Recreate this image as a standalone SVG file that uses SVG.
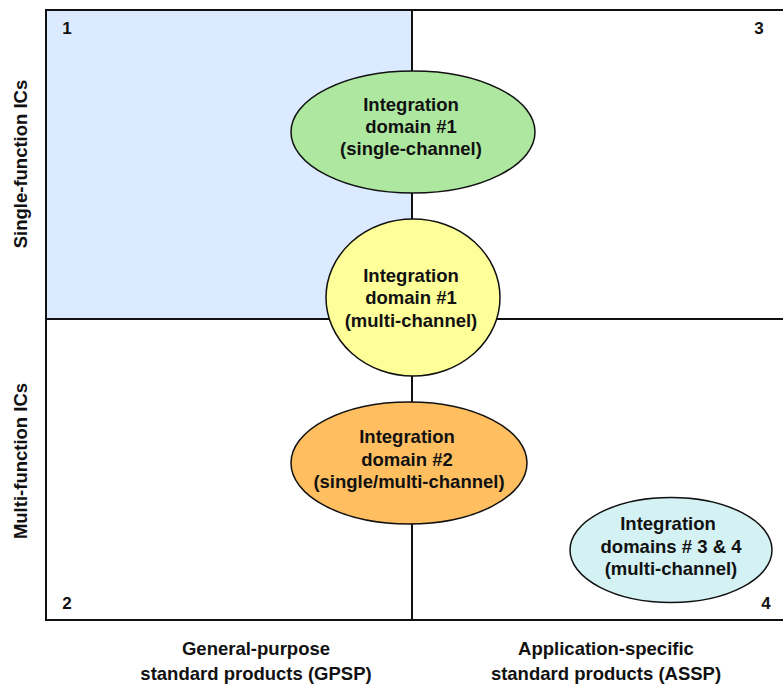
<svg xmlns="http://www.w3.org/2000/svg" width="783" height="685" viewBox="0 0 783 685">
<style>
.ln{stroke:#111;stroke-width:2;fill:none}
.el{stroke:#111;stroke-width:1.5}
text{font-family:"Liberation Sans",Arial,sans-serif;font-weight:bold;font-size:18.5px;fill:#111;text-anchor:middle}
.num{font-size:17px}
</style>
<rect width="783" height="685" fill="#fff"/>
<g id="grid">
<rect x="46" y="10" width="366" height="309" fill="#dbeafe"/>
<path class="ln" d="M790 10H46V620H790M46 319H790M412 10V620"/>
</g>
<g id="quadrant-labels">
<text class="num" x="67" y="34">1</text>
<text class="num" x="67" y="609">2</text>
<text class="num" x="759" y="34">3</text>
<text class="num" x="766" y="609">4</text>
</g>
<g id="axis-labels">
<text transform="translate(27,164) rotate(-90)">Single-function ICs</text>
<text transform="translate(27,461) rotate(-90)">Multi-function ICs</text>
<text x="256" y="655">General-purpose</text>
<text x="256" y="680">standard products (GPSP)</text>
<text x="606" y="655">Application-specific</text>
<text x="606" y="680">standard products (ASSP)</text>
</g>
<g id="connectors"></g>
<g id="node-green">
<ellipse class="el" cx="413" cy="132" rx="122" ry="61" fill="#aee8a0"/>
<text x="411" y="111">Integration</text>
<text x="411" y="133">domain #1</text>
<text x="411" y="155">(single-channel)</text>
</g>
<g id="node-yellow">
<ellipse class="el" cx="413" cy="297.5" rx="87" ry="78.5" fill="#ffff99"/>
<text x="411" y="282">Integration</text>
<text x="411" y="304">domain #1</text>
<text x="411" y="327">(multi-channel)</text>
</g>
<g id="node-orange">
<ellipse class="el" cx="409" cy="463" rx="118" ry="61" fill="#ffbf60"/>
<text x="407" y="443">Integration</text>
<text x="407" y="466">domain #2</text>
<text x="409" y="488">(single/multi-channel)</text>
</g>
<g id="node-cyan">
<ellipse class="el" cx="671" cy="550" rx="101" ry="52.5" fill="#d4f2f4"/>
<text x="668" y="530">Integration</text>
<text x="671" y="553">domains # 3 &amp; 4</text>
<text x="671" y="575">(multi-channel)</text>
</g>
</svg>
